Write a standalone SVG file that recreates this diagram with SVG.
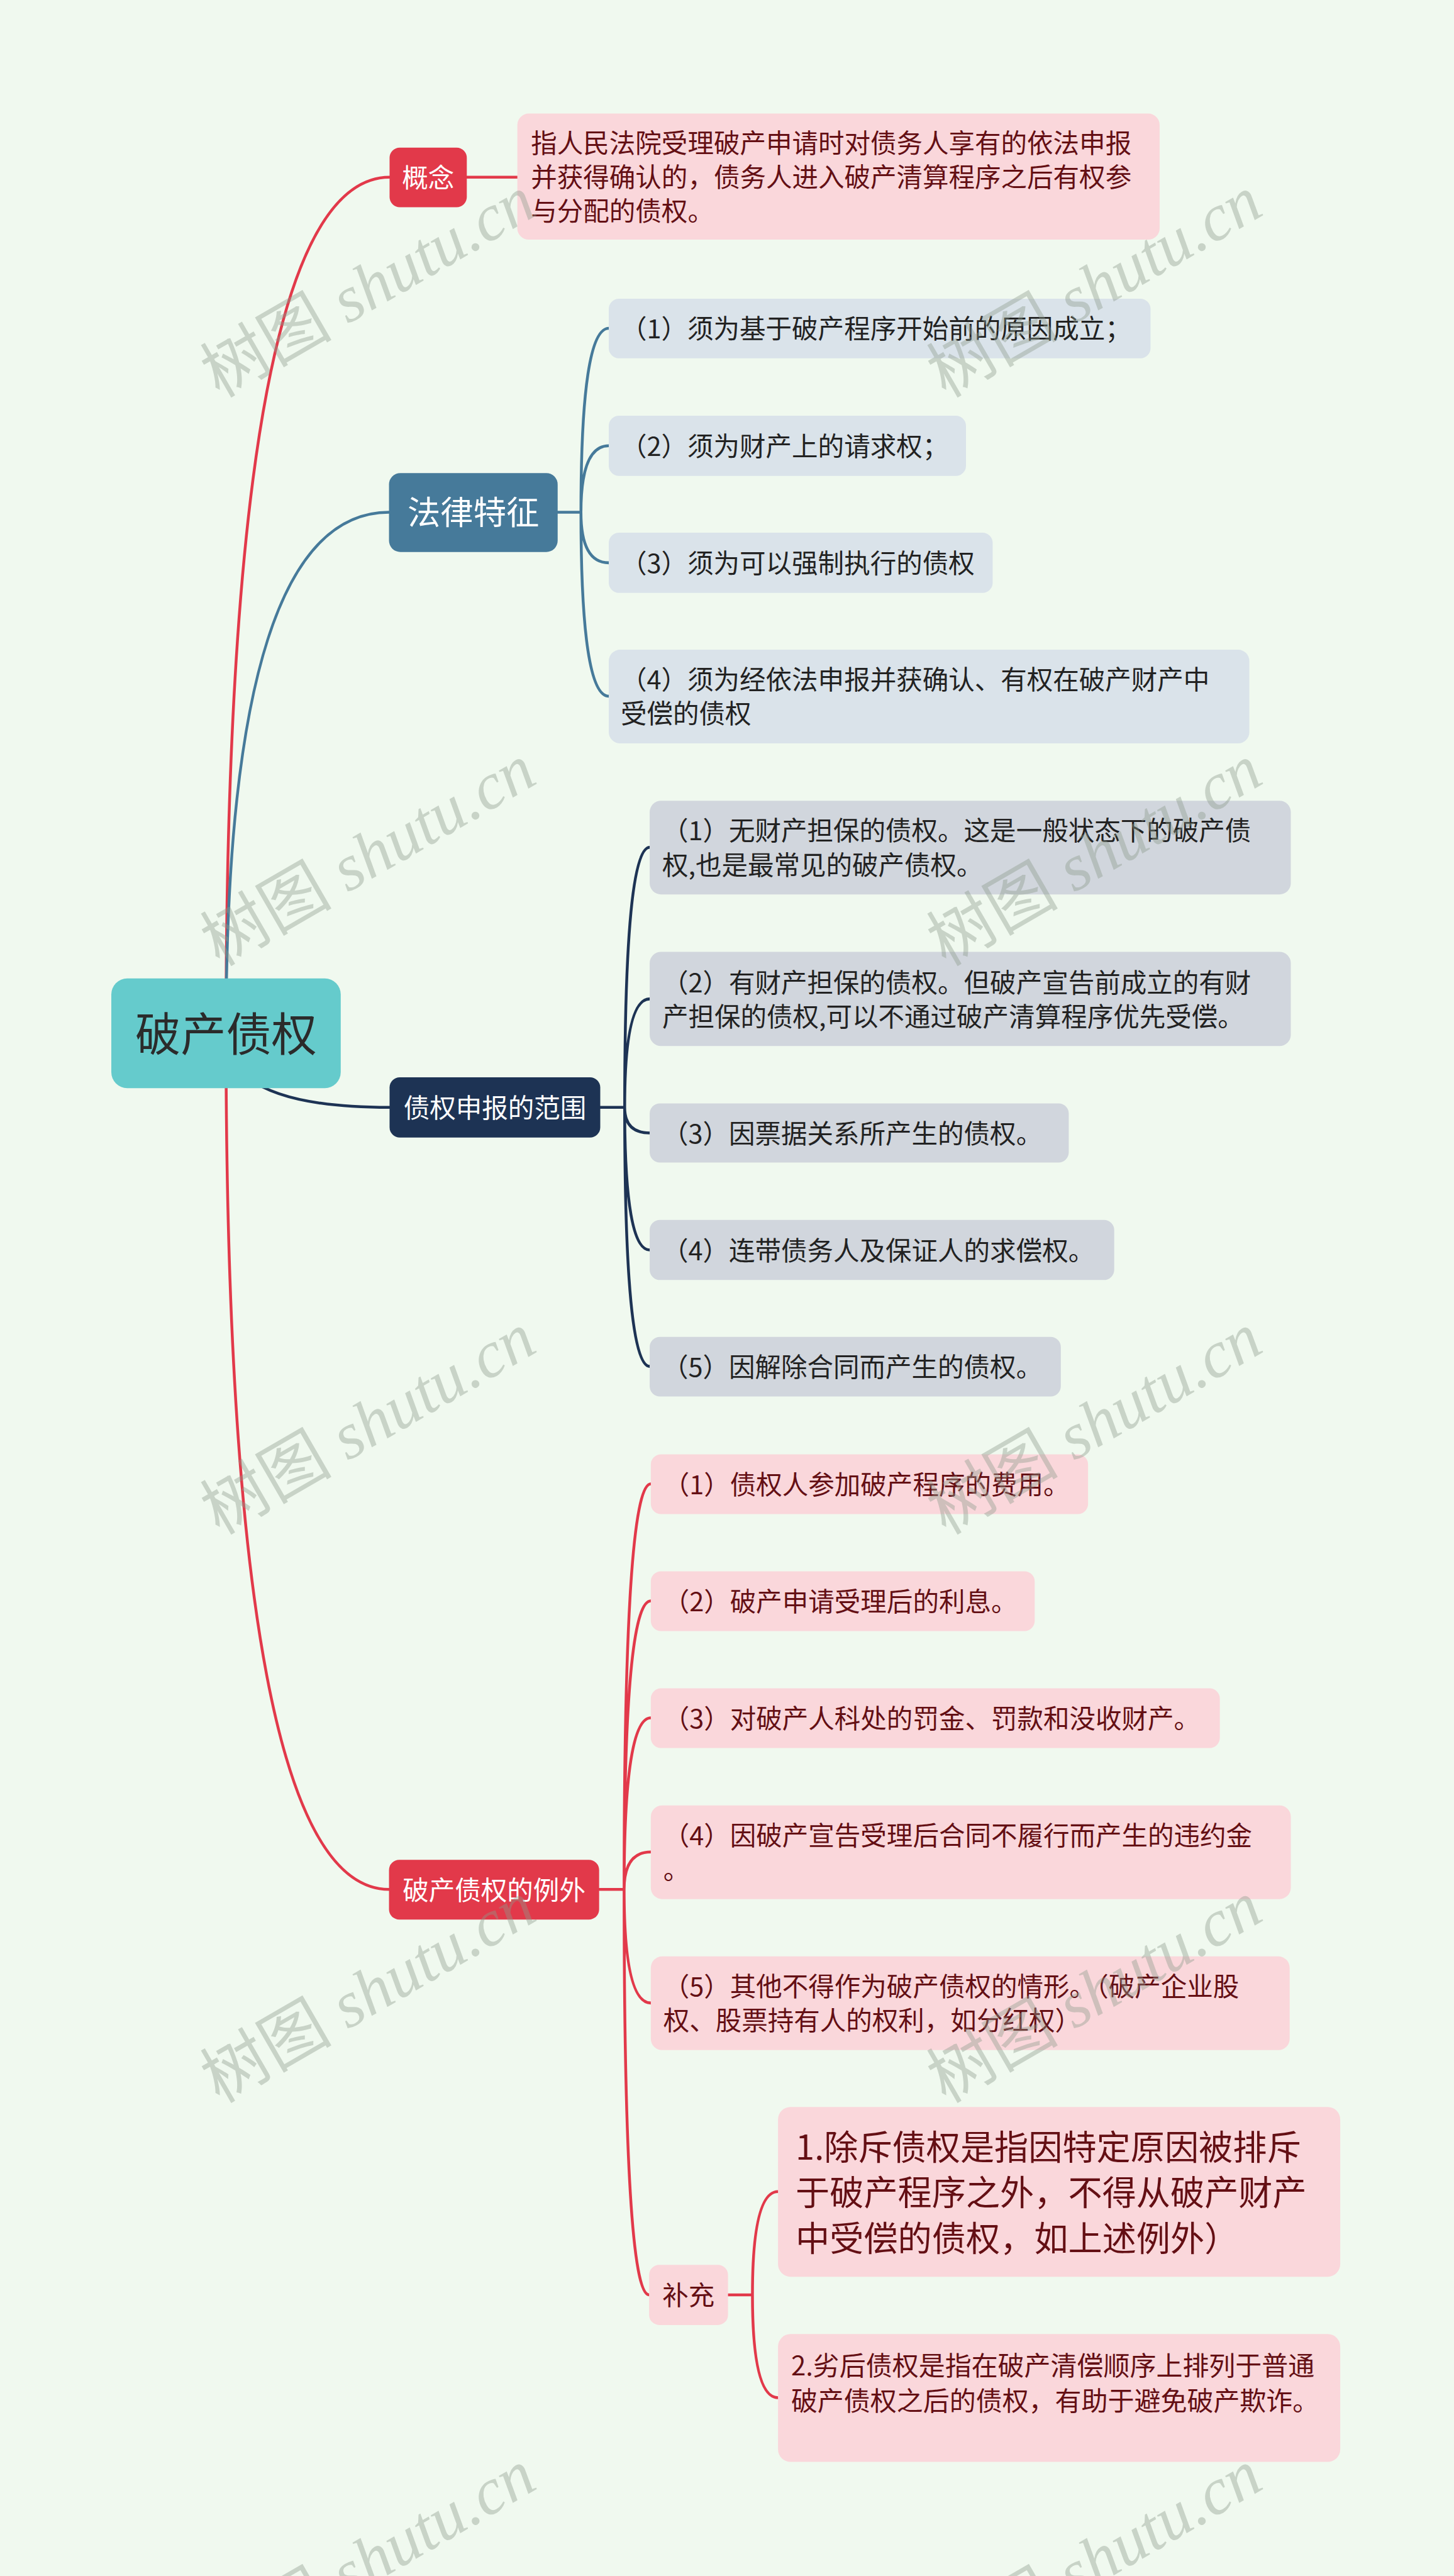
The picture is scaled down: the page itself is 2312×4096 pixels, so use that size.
<svg xmlns="http://www.w3.org/2000/svg" width="2312" height="4096" viewBox="0 0 2312 4096">
<defs>
<style>
.t{font-family:"Noto Sans CJK SC","Noto Sans CJK JP",sans-serif;font-size:46px}
.t80{font-size:80px}
.t58{font-size:58px}
.t60{font-size:60px}
.t46{font-size:46.5px}
.w{fill:#FFFFFF}
.dk{fill:#222222}
.rd{fill:#640F14}
.lnk{fill:none;stroke-width:5;stroke-linecap:round}
.red{stroke:#E2394A}
.blue{stroke:#467A9A}
.navy{stroke:#1D3354}
.pink{fill:#FAD7DB}
.lb{fill:#DAE3EA}
.gr{fill:#D1D6DD}
.wm{font-family:"Liberation Serif","Noto Sans CJK SC",serif;font-size:116px;fill:#8C9A8C;fill-opacity:0.4}
</style>
</defs>
<rect x="0" y="0" width="2312" height="4096" fill="#F0F9EF"/>
<g transform="scale(0.903)">
<g id="connectors">
<path class="lnk red" d="M398,1820 Q398,312 686,312"/>
<path class="lnk blue" d="M398,1820 Q398,902 685,902"/>
<path class="lnk navy" d="M398,1820 Q398,1950 686,1950"/>
<path class="lnk red" d="M398,1820 Q398,3327 685,3327"/>
<path class="lnk red" d="M822,312 H911"/>
<path class="lnk blue" d="M982,902 H1023 M1023,902 Q1023,578 1072,578 M1023,902 Q1023,785 1072,785 M1023,902 Q1023,991 1072,991 M1023,902 Q1023,1226 1072,1226"/>
<path class="lnk navy" d="M1057,1950 H1100 M1100,1950 Q1100,1492 1144,1492 M1100,1950 Q1100,1759 1144,1759 M1100,1950 Q1100,1995 1144,1995 M1100,1950 Q1100,2201 1144,2201 M1100,1950 Q1100,2406 1144,2406"/>
<path class="lnk red" d="M1055,3327 H1099 M1099,3327 Q1099,2613 1146,2613 M1099,3327 Q1099,2819 1146,2819 M1099,3327 Q1099,3025 1146,3025 M1099,3327 Q1099,3261 1146,3261 M1099,3327 Q1099,3527 1146,3527 M1099,3327 Q1099,4041 1143,4041"/>
<path class="lnk red" d="M1282,4041 H1325 M1325,4041 Q1325,3859 1370,3859 M1325,4041 Q1325,4222 1370,4222"/>
</g>
<g id="root">
<rect x="196" y="1723" width="404" height="193" rx="28" fill="#65CBCC"/>
<text class="t t80" x="398" y="1851" fill="#2B2B2B" text-anchor="middle">破产债权</text>
</g>
<g id="n-gainian">
<rect x="686" y="260" width="136" height="105" rx="18" fill="#E2394A"/>
<text class="t w" x="754" y="330" text-anchor="middle">概念</text>
</g>
<g id="n-gainian-desc">
<rect x="911" y="200" width="1131" height="222" rx="20" class="pink"/>
<text class="t rd" x="935" y="269">指人民法院受理破产申请时对债务人享有的依法申报</text>
<text class="t rd" x="935" y="329">并获得确认的，债务人进入破产清算程序之后有权参</text>
<text class="t rd" x="935" y="389">与分配的债权。</text>
</g>
<g id="n-tezheng">
<rect x="685" y="833" width="297" height="139" rx="20" fill="#467A9A"/>
<text class="t t58 w" x="833.5" y="924" text-anchor="middle">法律特征</text>
</g>
<g id="n-c1">
<rect x="1072" y="526" width="954" height="105" rx="18" class="lb"/>
<text class="t dk" x="1093" y="596">（1）须为基于破产程序开始前的原因成立；</text>
</g>
<g id="n-c2">
<rect x="1072" y="732" width="629" height="106" rx="18" class="lb"/>
<text class="t dk" x="1093" y="803">（2）须为财产上的请求权；</text>
</g>
<g id="n-c3">
<rect x="1072" y="938" width="676" height="106" rx="18" class="lb"/>
<text class="t dk" x="1093" y="1009">（3）须为可以强制执行的债权</text>
</g>
<g id="n-c4">
<rect x="1072" y="1144" width="1128" height="165" rx="20" class="lb"/>
<text class="t dk" x="1093" y="1214">（4）须为经依法申报并获确认、有权在破产财产中</text>
<text class="t dk" x="1093" y="1274">受偿的债权</text>
</g>
<g id="n-fanwei">
<rect x="686" y="1897" width="371" height="106" rx="18" fill="#1D3354"/>
<text class="t w" x="871.5" y="1968" text-anchor="middle">债权申报的范围</text>
</g>
<g id="n-d1">
<rect x="1144" y="1410" width="1129" height="165" rx="20" class="gr"/>
<text class="t dk" x="1166" y="1480">（1）无财产担保的债权。这是一般状态下的破产债</text>
<text class="t dk" x="1166" y="1540">权,也是最常见的破产债权。</text>
</g>
<g id="n-d2">
<rect x="1144" y="1676" width="1129" height="166" rx="20" class="gr"/>
<text class="t dk" x="1166" y="1747">（2）有财产担保的债权。但破产宣告前成立的有财</text>
<text class="t dk" x="1166" y="1807">产担保的债权,可以不通过破产清算程序优先受偿。</text>
</g>
<g id="n-d3">
<rect x="1144" y="1943" width="738" height="104" rx="18" class="gr"/>
<text class="t dk" x="1166" y="2013">（3）因票据关系所产生的债权。</text>
</g>
<g id="n-d4">
<rect x="1144" y="2148" width="818" height="106" rx="18" class="gr"/>
<text class="t dk" x="1166" y="2219">（4）连带债务人及保证人的求偿权。</text>
</g>
<g id="n-d5">
<rect x="1144" y="2354" width="724" height="105" rx="18" class="gr"/>
<text class="t dk" x="1166" y="2424">（5）因解除合同而产生的债权。</text>
</g>
<g id="n-liwai">
<rect x="685" y="3275" width="370" height="105" rx="18" fill="#E2394A"/>
<text class="t w" x="870" y="3345" text-anchor="middle">破产债权的例外</text>
</g>
<g id="n-e1">
<rect x="1146" y="2561" width="770" height="105" rx="18" class="pink"/>
<text class="t rd" x="1168" y="2631">（1）债权人参加破产程序的费用。</text>
</g>
<g id="n-e2">
<rect x="1146" y="2767" width="676" height="105" rx="18" class="pink"/>
<text class="t rd" x="1168" y="2837">（2）破产申请受理后的利息。</text>
</g>
<g id="n-e3">
<rect x="1146" y="2973" width="1002" height="105" rx="18" class="pink"/>
<text class="t rd" x="1168" y="3043">（3）对破产人科处的罚金、罚款和没收财产。</text>
</g>
<g id="n-e4">
<rect x="1146" y="3179" width="1127" height="165" rx="20" class="pink"/>
<text class="t rd" x="1168" y="3249">（4）因破产宣告受理后合同不履行而产生的违约金</text>
<text class="t rd" x="1168" y="3309">。</text>
</g>
<g id="n-e5">
<rect x="1146" y="3445" width="1125" height="165" rx="20" class="pink"/>
<text class="t rd" x="1168" y="3515">（5）其他不得作为破产债权的情形。（破产企业股</text>
<text class="t rd" x="1168" y="3575">权、股票持有人的权利，如分红权）</text>
</g>
<g id="n-buchong">
<rect x="1143" y="3988" width="139" height="106" rx="18" class="pink"/>
<text class="t rd" x="1212.5" y="4059" text-anchor="middle">补充</text>
</g>
<g id="n-f1">
<rect x="1370" y="3710" width="990" height="299" rx="22" class="pink"/>
<text class="t t60 rd" x="1401" y="3803">1.除斥债权是指因特定原因被排斥</text>
<text class="t t60 rd" x="1401" y="3883">于破产程序之外，不得从破产财产</text>
<text class="t t60 rd" x="1401" y="3963">中受偿的债权，如上述例外）</text>
</g>
<g id="n-f2">
<rect x="1370" y="4110" width="990" height="225" rx="22" class="pink"/>
<text class="t t46 rd" x="1393" y="4183">2.劣后债权是指在破产清偿顺序上排列于普通</text>
<text class="t t46 rd" x="1393" y="4245">破产债权之后的债权，有助于避免破产欺诈。</text>
</g>
<g id="watermarks">
<text class="wm" x="668" y="539" text-anchor="middle" transform="rotate(-30 668 539)">树图 <tspan font-style="italic">shutu.cn</tspan></text>
<text class="wm" x="1947" y="539" text-anchor="middle" transform="rotate(-30 1947 539)">树图 <tspan font-style="italic">shutu.cn</tspan></text>
<text class="wm" x="668" y="1540" text-anchor="middle" transform="rotate(-30 668 1540)">树图 <tspan font-style="italic">shutu.cn</tspan></text>
<text class="wm" x="1947" y="1540" text-anchor="middle" transform="rotate(-30 1947 1540)">树图 <tspan font-style="italic">shutu.cn</tspan></text>
<text class="wm" x="668" y="2541" text-anchor="middle" transform="rotate(-30 668 2541)">树图 <tspan font-style="italic">shutu.cn</tspan></text>
<text class="wm" x="1947" y="2541" text-anchor="middle" transform="rotate(-30 1947 2541)">树图 <tspan font-style="italic">shutu.cn</tspan></text>
<text class="wm" x="668" y="3542" text-anchor="middle" transform="rotate(-30 668 3542)">树图 <tspan font-style="italic">shutu.cn</tspan></text>
<text class="wm" x="1947" y="3542" text-anchor="middle" transform="rotate(-30 1947 3542)">树图 <tspan font-style="italic">shutu.cn</tspan></text>
<text class="wm" x="668" y="4543" text-anchor="middle" transform="rotate(-30 668 4543)">树图 <tspan font-style="italic">shutu.cn</tspan></text>
<text class="wm" x="1947" y="4543" text-anchor="middle" transform="rotate(-30 1947 4543)">树图 <tspan font-style="italic">shutu.cn</tspan></text>
</g>
</g>
</svg>
